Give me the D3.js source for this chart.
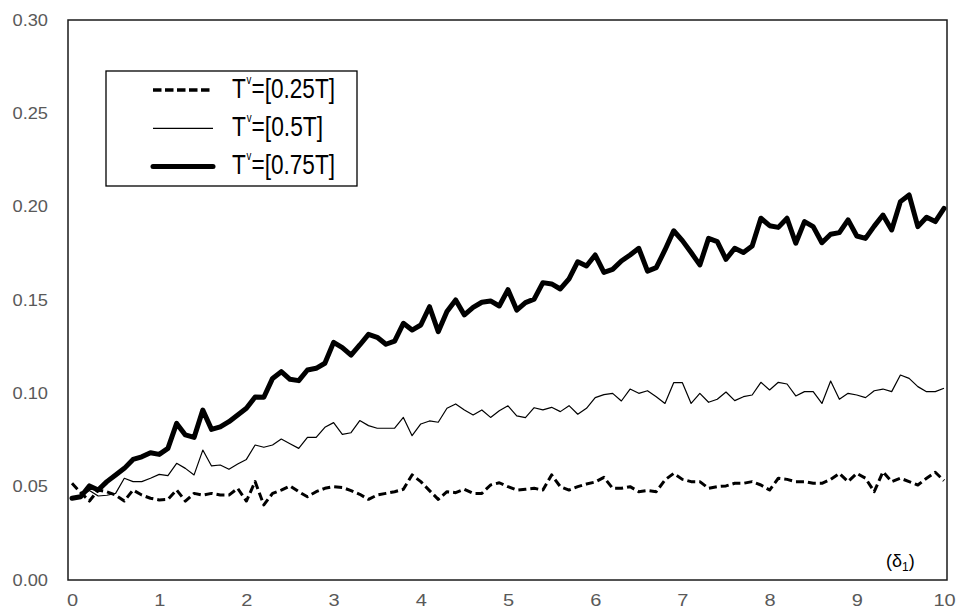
<!DOCTYPE html>
<html>
<head>
<meta charset="utf-8">
<script src="https://cdn.jsdelivr.net/npm/d3@7"></script>
<style>
  body { margin: 0; background: #fff; }
  svg { display: block; font-family: "Liberation Sans", Arial, sans-serif; }
</style>
</head>
<body>
<svg id="chart" width="957" height="609"></svg>
<script>
// delta_1 goes from 0 to 10 in steps of 0.1
var deltaSteps = d3.range(101).map(function(i) { return i / 10 });

var yTicks = [0, 0.05, 0.10, 0.15, 0.20, 0.25, 0.30];
var xTicks = [0, 1, 2, 3, 4, 5, 6, 7, 8, 9, 10];

var legendLabels = ["0.25T", "0.5T", "0.75T"];

var t025 = [0.0518,0.0468,0.0423,0.0482,0.0473,0.0455,0.0423,0.0482,0.0455,0.0438,
  0.0429,0.0432,0.0482,0.0423,0.0464,0.0455,0.0464,0.0455,0.0455,0.0491,
  0.0423,0.0527,0.0402,0.0464,0.0482,0.0504,0.0473,0.0446,0.0473,0.0491,
  0.0500,0.0496,0.0479,0.0459,0.0432,0.0455,0.0464,0.0473,0.0486,0.0563,
  0.0527,0.0479,0.0432,0.0473,0.0468,0.0486,0.0464,0.0464,0.0509,0.0521,
  0.0500,0.0482,0.0486,0.0491,0.0482,0.0563,0.0500,0.0482,0.0500,0.0514,
  0.0525,0.0550,0.0491,0.0491,0.0500,0.0473,0.0479,0.0473,0.0536,0.0571,
  0.0539,0.0527,0.0527,0.0491,0.0500,0.0504,0.0518,0.0518,0.0527,0.0509,
  0.0482,0.0545,0.0539,0.0527,0.0527,0.0518,0.0518,0.0539,0.0571,0.0527,
  0.0571,0.0545,0.0473,0.0580,0.0527,0.0545,0.0527,0.0509,0.0545,0.0577,
  0.0532];

var t050 = [0.0443,0.0446,0.0480,0.0450,0.0454,0.0464,0.0545,0.0527,0.0527,0.0545,
  0.0566,0.0559,0.0625,0.0598,0.0563,0.0696,0.0611,0.0616,0.0593,0.0621,
  0.0646,0.0723,0.0711,0.0723,0.0755,0.0730,0.0705,0.0764,0.0764,0.0818,
  0.0843,0.0780,0.0789,0.0854,0.0827,0.0813,0.0813,0.0813,0.0871,0.0773,
  0.0836,0.0852,0.0845,0.0920,0.0943,0.0911,0.0884,0.0911,0.0871,0.0907,
  0.0933,0.0879,0.0870,0.0923,0.0911,0.0925,0.0902,0.0934,0.0888,0.0920,
  0.0977,0.0993,0.1000,0.0959,0.1023,0.1000,0.1014,0.0982,0.0946,0.1057,
  0.1057,0.0946,0.1000,0.0952,0.0968,0.1007,0.0961,0.0982,0.0991,0.1059,
  0.1018,0.1059,0.1050,0.0986,0.1009,0.1009,0.0946,0.1066,0.0968,0.1000,
  0.0991,0.0977,0.1014,0.1023,0.1009,0.1098,0.1080,0.1036,0.1009,0.1009,
  0.1027];

var t075 = [0.0438,0.0446,0.0504,0.0482,0.0527,0.0563,0.0598,0.0646,0.0660,0.0682,
  0.0673,0.0705,0.0839,0.0777,0.0764,0.0910,0.0807,0.0820,0.0848,0.0884,
  0.0920,0.0980,0.0979,0.1080,0.1116,0.1075,0.1068,0.1125,0.1134,0.1161,
  0.1273,0.1245,0.1205,0.1259,0.1316,0.1300,0.1263,0.1280,0.1375,0.1339,
  0.1366,0.1464,0.1330,0.1438,0.1500,0.1420,0.1460,0.1488,0.1495,0.1468,
  0.1555,0.1446,0.1486,0.1505,0.1593,0.1586,0.1559,0.1613,0.1705,0.1682,
  0.1741,0.1648,0.1664,0.1709,0.1741,0.1777,0.1655,0.1673,0.1768,0.1871,
  0.1818,0.1754,0.1688,0.1830,0.1813,0.1718,0.1777,0.1754,0.1789,0.1938,
  0.1898,0.1889,0.1938,0.1804,0.1920,0.1893,0.1807,0.1852,0.1861,0.1929,
  0.1843,0.1830,0.1896,0.1955,0.1875,0.2027,0.2063,0.1893,0.1943,0.1920,
  0.1991];

var svg = d3.select("#chart");

var frame = {left: 68, top: 20, right: 947, bottom: 580};

var x = d3.scaleLinear().domain([0, 10]).range([72, 944]);
var y = d3.scaleLinear().domain([0, 0.3]).range([frame.bottom, frame.top]);

// stretch the tick labels a bit, they are wider than plain Arial
function widen(sel, k) {
  sel.each(function() {
    var len = this.getComputedTextLength();
    d3.select(this).attr("textLength", len * k).attr("lengthAdjust", "spacingAndGlyphs");
  });
}

// Y axis
var yAxis = svg.append("g")
    .attr("transform", "translate(" + frame.left + ",0)")
    .call(d3.axisLeft(y).tickValues(yTicks).tickSize(0).tickPadding(20).tickFormat(d3.format(".2f")));
yAxis.select(".domain").remove();
yAxis.selectAll("text")
    .attr("fill", "#595959")
    .style("font-size", "16px")
    .style("font-family", "Liberation Sans, Arial, sans-serif")
    .call(widen, 1.14);

// X axis
var xAxis = svg.append("g")
    .attr("transform", "translate(0," + frame.bottom + ")")
    .call(d3.axisBottom(x).tickValues(xTicks).tickSize(0).tickPadding(15).tickFormat(d3.format("d")));
xAxis.select(".domain").remove();
xAxis.selectAll("text")
    .attr("fill", "#595959")
    .style("font-size", "16px")
    .style("font-family", "Liberation Sans, Arial, sans-serif")
    .call(widen, 1.25);

// Series
var series = [
  {name: legendLabels[0], values: t025, width: 3, dash: "8,4", cap: "butt"},
  {name: legendLabels[1], values: t050, width: 1.2, dash: null, cap: "butt"},
  {name: legendLabels[2], values: t075, width: 5, dash: null, cap: "round"}
];

var line = d3.line()
    .x(function(d, i) { return x(deltaSteps[i]) })
    .y(function(d) { return y(d) });

svg.append("g").selectAll("path")
    .data(series)
    .enter().append("path")
      .attr("d", function(d) { return line(d.values) })
      .attr("fill", "none")
      .attr("stroke", "#000")
      .attr("stroke-width", function(d) { return d.width })
      .attr("stroke-dasharray", function(d) { return d.dash })
      .attr("stroke-linejoin", "round")
      .attr("stroke-linecap", function(d) { return d.cap });

// Plot frame
svg.append("rect")
    .attr("x", frame.left)
    .attr("y", frame.top)
    .attr("width", frame.right - frame.left)
    .attr("height", frame.bottom - frame.top)
    .attr("fill", "none")
    .attr("stroke", "#1a1a1a")
    .attr("stroke-width", 1.5);

// Legend
var legend = svg.append("g").attr("transform", "translate(106,71)");
legend.append("rect")
    .attr("width", 251)
    .attr("height", 115)
    .attr("fill", "#fff")
    .attr("stroke", "#000")
    .attr("stroke-width", 1.3);

var rows = legend.selectAll(".legend-row")
    .data(series)
    .enter().append("g")
      .attr("class", "legend-row")
      .attr("transform", function(d, i) { return "translate(0," + (19 + i * 38.3) + ")" });

rows.append("line")
    .attr("x1", 47).attr("x2", 107)
    .attr("stroke", "#000")
    .attr("stroke-width", function(d) { return d.width === 3 ? 3.5 : d.width })
    .attr("stroke-dasharray", function(d) { return d.dash ? "8.5,3.5" : null })
    .attr("stroke-linecap", function(d) { return d.cap });

var labels = rows.append("text")
    .attr("x", 126)
    .attr("y", 7.5)
    .style("font-size", "28px")
    .attr("lengthAdjust", "spacingAndGlyphs")
    .attr("textLength", function(d) { return d.name.length > 4 ? 103 : 91 });
labels.append("tspan").text("T");
labels.append("tspan").attr("dx", 1).attr("dy", -14).style("font-size", "12px").text("v");
labels.append("tspan").attr("dy", 14).text(function(d) { return "=[" + d.name + "]" });

// delta_1 axis label
var dl = svg.append("text")
    .attr("x", 886)
    .attr("y", 567)
    .style("font-size", "18px");
dl.append("tspan").text("(δ");
dl.append("tspan").attr("dy", 4).style("font-size", "12px").text("1");
dl.append("tspan").attr("dy", -4).text(")");
</script>
</body>
</html>
